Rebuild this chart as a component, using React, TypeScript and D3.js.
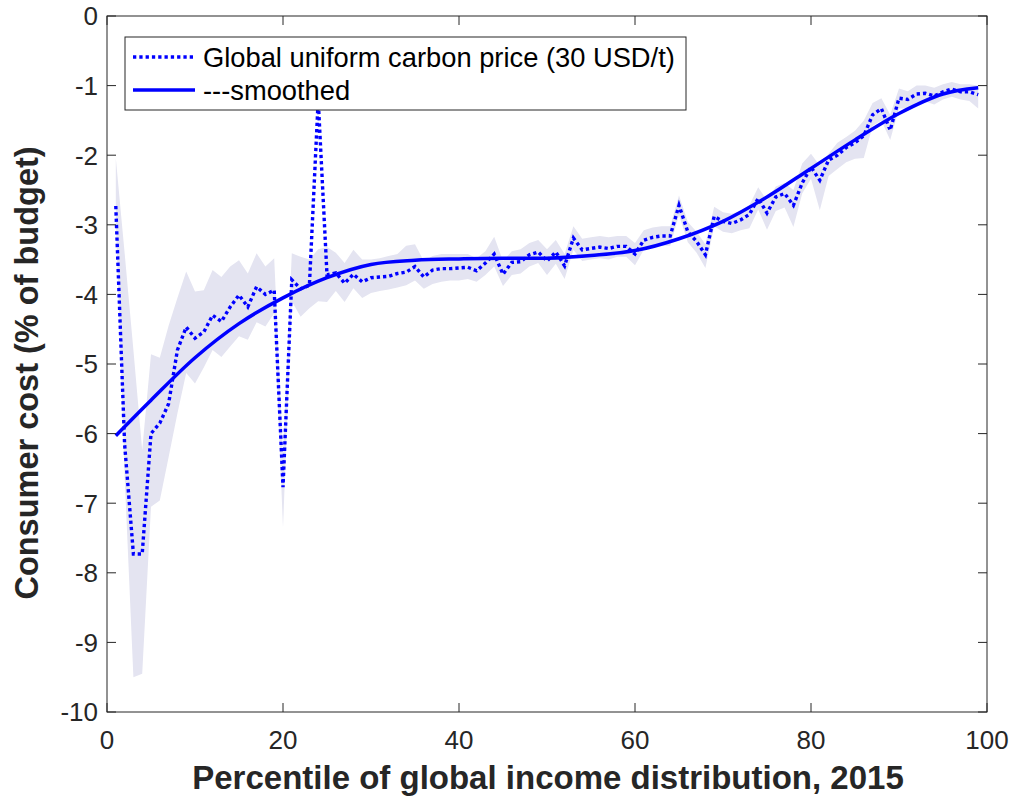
import React from "react";
import * as d3 from "d3";

const percentiles: number[] = Array.from({ length: 99 }, (_, i) => i + 1);

const carbonPrice: number[] = [
  -2.73, -6.15, -7.73, -7.73, -6.0, -5.85, -5.57, -4.8, -4.47, -4.63,
  -4.54, -4.3, -4.39, -4.18, -4.01, -4.18, -3.89, -4.0, -3.94, -6.77,
  -3.79, -3.92, -3.87, -1.2, -3.72, -3.69, -3.84, -3.71, -3.82, -3.76,
  -3.75, -3.74, -3.7, -3.68, -3.6, -3.75, -3.65, -3.63, -3.63, -3.62,
  -3.61, -3.66, -3.55, -3.42, -3.71, -3.54, -3.53, -3.43, -3.39, -3.52,
  -3.39, -3.59, -3.19, -3.36, -3.34, -3.32, -3.34, -3.31, -3.31, -3.42,
  -3.22, -3.18, -3.16, -3.16, -2.72, -3.1, -3.24, -3.43, -2.88, -2.95,
  -2.98, -2.93, -2.85, -2.62, -2.83, -2.6, -2.55, -2.72, -2.4, -2.17,
  -2.36, -2.07, -2.0, -1.89, -1.82, -1.72, -1.42, -1.33, -1.64, -1.18,
  -1.2, -1.12, -1.11, -1.15, -1.09, -1.05, -1.09, -1.09, -1.13,
];

const bandLower: number[] = [
  -2.95, -6.6, -9.5, -9.45, -7.05, -6.96, -6.34, -5.71, -5.13, -5.28,
  -5.05, -4.8, -4.9, -4.75, -4.6, -4.65, -4.4, -4.46, -4.27, -7.35,
  -4.1, -4.32, -4.2, -4.1, -4.11, -3.95, -4.11, -3.91, -4.05, -3.98,
  -3.95, -3.93, -3.9, -3.87, -3.8, -3.92, -3.85, -3.82, -3.8, -3.8,
  -3.78, -3.82, -3.72, -3.6, -3.88, -3.72, -3.7, -3.6, -3.55, -3.72,
  -3.56, -3.78, -3.36, -3.52, -3.5, -3.48, -3.5, -3.46, -3.46, -3.58,
  -3.36, -3.32, -3.3, -3.3, -2.86, -3.25, -3.4, -3.62, -3.02, -3.1,
  -3.12, -3.08, -3.05, -2.78, -3.07, -2.8, -2.75, -3.03, -2.55, -2.34,
  -2.79, -2.3, -2.2, -2.1, -2.05, -2.04, -1.58, -1.5, -1.78, -1.33,
  -1.33, -1.24, -1.23, -1.27, -1.2, -1.16, -1.2, -1.22, -1.33,
];

const bandUpper: number[] = [
  -2.04, -3.4, -4.8, -6.24, -4.86, -4.91, -4.45, -4.05, -3.67, -3.96,
  -3.94, -3.65, -3.75, -3.6, -3.51, -3.7, -3.41, -3.6, -3.48, -6.3,
  -3.41, -3.46, -3.5, -3.35, -3.32, -3.4, -3.55, -3.36, -3.5, -3.5,
  -3.48, -3.45, -3.42, -3.3, -3.28, -3.52, -3.45, -3.42, -3.42, -3.42,
  -3.42, -3.48, -3.38, -3.17, -3.52, -3.38, -3.35, -3.26, -3.22, -3.35,
  -3.22, -3.42, -3.02, -3.2, -3.18, -3.16, -3.18, -3.16, -3.16, -3.26,
  -3.08, -3.04, -3.02, -3.02, -2.58, -2.96, -3.1, -3.28, -2.74, -2.82,
  -2.84, -2.8, -2.72, -2.46, -2.65, -2.45, -2.4, -2.5, -2.12, -1.98,
  -2.15, -1.98, -1.82, -1.74, -1.65, -1.5, -1.25, -1.18, -1.42, -1.04,
  -1.08, -1.0, -1.0, -1.03, -0.98, -0.95, -0.98, -0.98, -1.0,
];

const smoothX: number[] = [1, 5, 10, 15, 20, 25, 30, 35, 40, 45, 50, 55, 60, 65, 70, 75, 80, 85, 90, 95, 99];
const smoothY: number[] = [
  -6.03, -5.52, -4.91, -4.42, -4.05, -3.76, -3.57, -3.51, -3.49, -3.48, -3.48,
  -3.44, -3.37, -3.2, -2.95, -2.6, -2.19, -1.78, -1.4, -1.12, -1.03,
];

const xTicks: number[] = [0, 20, 40, 60, 80, 100];
const yTicks: number[] = [0, -1, -2, -3, -4, -5, -6, -7, -8, -9, -10];

const legendLabels: string[] = ["Global uniform carbon price (30 USD/t)", "---smoothed"];
const xTitle = "Percentile of global income distribution, 2015";
const yTitle = "Consumer cost (% of budget)";

const W = 1013;
const H = 801;
const left = 107;
const right = 987;
const top = 16;
const bottom = 712;
const axisColor = "#262626";
const font = "'Liberation Sans', Arial, Helvetica, sans-serif";

export default function App() {
  const x = d3.scaleLinear().domain([0, 100]).range([left, right]);
  const y = d3.scaleLinear().domain([-10, 0]).range([bottom, top]);

  const area = d3
    .area<number>()
    .x((_, i) => x(percentiles[i]))
    .y0((_, i) => y(bandLower[i]))
    .y1((_, i) => y(bandUpper[i]));

  const line = d3
    .line<number>()
    .x((_, i) => x(percentiles[i]))
    .y((d) => y(d));

  const smoothLine = d3
    .line<number>()
    .x((_, i) => x(smoothX[i]))
    .y((d) => y(d))
    .curve(d3.curveCatmullRom.alpha(0.5));

  const tickLen = 9;

  return (
    <svg
      width={W}
      height={H}
      style={{ position: "absolute", left: 0, top: 0, background: "#fff" }}
      fontFamily={font}
    >
      <rect x={0} y={0} width={W} height={H} fill="#fff" />
      <defs>
        <clipPath id="plotclip">
          <rect x={left} y={top} width={right - left} height={bottom - top} />
        </clipPath>
      </defs>
      <g clipPath="url(#plotclip)">
        <path d={area(carbonPrice) || ""} fill="#e4e4f1" stroke="none" />
        <path
          d={line(carbonPrice) || ""}
          fill="none"
          stroke="#0000ff"
          strokeWidth={3.4}
          strokeDasharray="3.3,3"
        />
        <path d={smoothLine(smoothY) || ""} fill="none" stroke="#0000ff" strokeWidth={3.5} />
      </g>

      {/* axes box */}
      <rect x={left} y={top} width={right - left} height={bottom - top} fill="none" stroke={axisColor} strokeWidth={1} />
      {xTicks.map((t) => (
        <g key={"xt" + t}>
          <line x1={x(t)} x2={x(t)} y1={bottom} y2={bottom - tickLen} stroke={axisColor} />
          <line x1={x(t)} x2={x(t)} y1={top} y2={top + tickLen} stroke={axisColor} />
          <text x={x(t)} y={bottom + 37} textAnchor="middle" fontSize={26} fill="#262626">
            {t}
          </text>
        </g>
      ))}
      {yTicks.map((t) => (
        <g key={"yt" + t}>
          <line x1={left} x2={left + tickLen} y1={y(t)} y2={y(t)} stroke={axisColor} />
          <line x1={right} x2={right - tickLen} y1={y(t)} y2={y(t)} stroke={axisColor} />
          <text x={left - 9} y={y(t)} dy="0.36em" textAnchor="end" fontSize={26} fill="#262626">
            {t}
          </text>
        </g>
      ))}

      <text x={(left + right) / 2 + 1} y={789} textAnchor="middle" fontSize={33} fontWeight="bold" fill="#262626">
        {xTitle}
      </text>
      <text
        transform={`translate(38, ${(top + bottom) / 2 + 9}) rotate(-90)`}
        textAnchor="middle"
        fontSize={32.5}
        fontWeight="bold"
        fill="#262626"
      >
        {yTitle}
      </text>

      {/* legend */}
      <rect x={125} y={37} width={561} height={73} fill="#fff" stroke={axisColor} strokeWidth={1} />
      <line x1={133} x2={195} y1={57} y2={57} stroke="#0000ff" strokeWidth={3.4} strokeDasharray="3.3,3" />
      <line x1={133} x2={195} y1={90} y2={90} stroke="#0000ff" strokeWidth={3.5} />
      <text x={203} y={57} dy="0.35em" fontSize={27.3} fill="#000">
        {legendLabels[0]}
      </text>
      <text x={203} y={90} dy="0.35em" fontSize={27.3} fill="#000">
        {legendLabels[1]}
      </text>
    </svg>
  );
}
